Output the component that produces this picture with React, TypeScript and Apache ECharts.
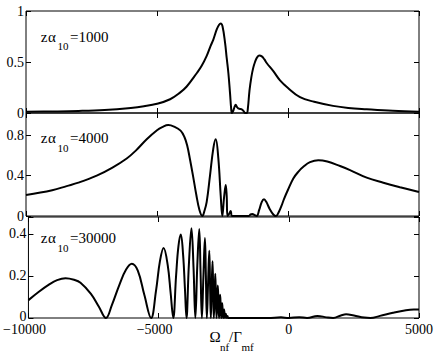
import React, { useEffect, useRef } from 'react';
import * as echarts from 'echarts';

// ---------- data ----------
const X_MIN = -10000;
const X_MAX = 5000;
const X_STEP = 5000;

const PANEL_VALUES = ['1000', '4000', '30000'];
const Y_MAX = [1, 1.02, 0.48];
const Y_STEP = [0.5, 0.4, 0.2];
const Y_TICKS_1 = [0, 0.5, 1];
const Y_TICKS_2 = [0, 0.4, 0.8];
const Y_TICKS_3 = [0, 0.2, 0.4];

// zα10 = 1000
const P1_X = [-10000, -9000, -8000, -7000, -6000, -5500, -5000, -4500, -4122, -3866, -3484, -3300, -3103, -2950, -2850, -2720, -2630, -2568, -2500, -2403, -2340, -2275, -2213, -2165, -2140, -2090, -2040, -1995, -1950, -1900, -1830, -1767, -1700, -1630, -1570, -1530, -1470, -1400, -1330, -1259, -1180, -1094, -1000, -900, -813, -560, -305, 0, 459, 1000, 1719, 2300, 3004, 4000, 5000];
const P1_Y = [0.012, 0.015, 0.02, 0.03, 0.05, 0.066, 0.09, 0.135, 0.2, 0.26, 0.39, 0.46, 0.56, 0.66, 0.72, 0.82, 0.865, 0.878, 0.85, 0.69, 0.54, 0.39, 0.195, 0.03, 0.0, 0.02, 0.06, 0.08, 0.06, 0.045, 0.04, 0.036, 0.02, 0.0, 0.0, 0.05, 0.22, 0.35, 0.44, 0.5, 0.545, 0.564, 0.555, 0.525, 0.49, 0.41, 0.32, 0.245, 0.155, 0.11, 0.07, 0.05, 0.037, 0.022, 0.013];

// zα10 = 4000
const P2_X = [-10000, -9000, -8447, -8000, -7300, -6700, -6156, -5800, -5393, -5000, -4800, -4568, -4350, -4100, -3950, -3850, -3740, -3620, -3500, -3380, -3270, -3190, -3103, -2977, -2850, -2759, -2659, -2568, -2507, -2442, -2377, -2340, -2309, -2250, -2187, -2125, -1500, -1430, -1362, -1290, -1194, -1100, -1000, -915, -830, -700, -560, -457, -350, -250, -150, 0, 203, 400, 585, 840, 1157, 1500, 1986, 2368, 3004, 3640, 4276, 5000];
const P2_Y = [0.207, 0.255, 0.296, 0.33, 0.4, 0.48, 0.57, 0.65, 0.76, 0.85, 0.88, 0.9, 0.885, 0.845, 0.78, 0.7, 0.56, 0.39, 0.21, 0.06, 0.0, 0.05, 0.14, 0.4, 0.67, 0.76, 0.57, 0.2, 0.0, 0.18, 0.306, 0.2, 0.0, 0.02, 0.05, 0.0, 0.0, 0.015, 0.02, 0.012, 0.0, 0.06, 0.14, 0.165, 0.14, 0.07, 0.015, 0.0, 0.04, 0.1, 0.17, 0.26, 0.372, 0.44, 0.487, 0.533, 0.553, 0.54, 0.495, 0.455, 0.38, 0.33, 0.285, 0.237];

// zα10 = 30000
const P3_X = [-10000, -9600, -9200, -8900, -8576, -8250, -8000, -7600, -7300, -7023, -6800, -6500, -6250, -6030, -5800, -5550, -5290, -5100, -4950, -4810, -4650, -4540, -4438, -4330, -4240, -4149, -4060, -3990, -3931, -3840, -3740, -3660, -3590, -3515, -3440, -3390, -3339, -3280, -3222, -3185, -3148, -3100, -3055, -3025, -2995, -2965, -2930, -2905, -2880, -2850, -2825, -2800, -2775, -2752, -2728, -2703, -2680, -2660, -2638, -2616, -2595, -2578, -2560, -2540, -2520, -2485, -2450, -2418, -2385, -2355, -2325, -1500, -800, -300, 0, 400, 700, 1100, 1450, 1700, 2000, 2200, 2500, 2900, 3131, 3500, 4000, 4500, 4800, 5000];
const P3_Y = [0.085, 0.125, 0.16, 0.18, 0.189, 0.182, 0.168, 0.115, 0.055, 0.0, 0.06, 0.16, 0.23, 0.258, 0.225, 0.11, 0.0, 0.13, 0.27, 0.333, 0.25, 0.12, 0.0, 0.2, 0.34, 0.397, 0.3, 0.14, 0.0, 0.25, 0.427, 0.24, 0.0, 0.25, 0.423, 0.22, 0.0, 0.2, 0.38, 0.2, 0.0, 0.17, 0.32, 0.16, 0.0, 0.13, 0.27, 0.13, 0.0, 0.1, 0.21, 0.1, 0.0, 0.08, 0.155, 0.08, 0.0, 0.055, 0.11, 0.055, 0.0, 0.035, 0.07, 0.035, 0.0, 0.04, 0.0, 0.02, 0.0, 0.01, 0.0, 0.0, 0.0, 0.003, 0.0, 0.004, 0.0, 0.01, 0.003, 0.0, 0.012, 0.018, 0.012, 0.002, 0.0, 0.01, 0.025, 0.037, 0.04, 0.04];

const SERIES_X = [P1_X, P2_X, P3_X];
const SERIES_Y = [P1_Y, P2_Y, P3_Y];
const Y_TICKS = [Y_TICKS_1, Y_TICKS_2, Y_TICKS_3];

// ---------- layout / style ----------
const FONT = 'Liberation Serif';
const GRIDS = [
  { top: 11, height: 102 },
  { top: 113, height: 103 },
  { top: 217, height: 101 },
];
const LABEL_Y = [36.7, 138.3, 238.3];
const SUB_Y = [46.3, 147.9, 247.9];

function fmtX(v: number) {
  return v < 0 ? '{neg|\u2212' + Math.abs(v) + '}' : String(v);
}

export default function App() {
  const ref = useRef<HTMLDivElement>(null);

  useEffect(() => {
    if (!ref.current) return;
    const chart = echarts.init(ref.current, undefined, { renderer: 'svg' });

    const grid = GRIDS.map((g) => ({
      left: 26,
      width: 393,
      top: g.top,
      height: g.height,
      show: true,
      borderColor: '#000',
      borderWidth: 1,
      backgroundColor: 'transparent',
    }));

    const tick = { show: true, inside: true, length: 5, lineStyle: { color: '#000', width: 1 } };

    const xAxis: any[] = [];
    const yAxis: any[] = [];
    for (let i = 0; i < 3; i++) {
      ['bottom', 'top'].forEach((pos) => {
        xAxis.push({
          type: 'value',
          gridIndex: i,
          position: pos,
          min: X_MIN,
          max: X_MAX,
          interval: X_STEP,
          axisLine: { show: false, onZero: false },
          splitLine: { show: false },
          axisTick: tick,
          axisLabel: {
            show: i === 2 && pos === 'bottom',
            formatter: fmtX,
            fontFamily: FONT,
            fontSize: 14,
            lineHeight: 10,
            color: '#000',
            margin: 6,
            rich: {
              neg: {
                fontFamily: FONT,
                fontSize: 14,
                lineHeight: 10,
                color: '#000',
                padding: [0, 8, 0, 0],
              },
            },
          },
        });
      });
      const ticks = Y_TICKS[i];
      const isBottom = i === 2;
      ['left', 'right'].forEach((pos) => {
        yAxis.push({
          type: 'value',
          gridIndex: i,
          position: pos,
          min: 0,
          max: Y_MAX[i],
          interval: Y_STEP[i],
          axisLine: { show: false, onZero: false },
          splitLine: { show: false },
          axisTick: tick,
          axisLabel: {
            show: pos === 'left',
            formatter: (v: number) => {
              const t = ticks.find((tt) => Math.abs(tt - v) < 1e-6);
              if (t === undefined) return '';
              return isBottom && t === 0 ? '{low|0}' : String(t);
            },
            fontFamily: FONT,
            fontSize: 14,
            lineHeight: 10,
            color: '#000',
            margin: 2,
            rich: {
              low: {
                fontFamily: FONT,
                fontSize: 14,
                lineHeight: 10,
                color: '#000',
                padding: [0, 0, 4, 0],
              },
            },
          },
        });
      });
    }

    const series = SERIES_X.map((xs, i) => ({
      type: 'line',
      xAxisIndex: 2 * i,
      yAxisIndex: 2 * i,
      data: xs.map((x, k) => [x, SERIES_Y[i][k]]),
      showSymbol: false,
      smooth: 0.4,
      clip: true,
      lineStyle: { color: '#000', width: 2 },
    }));

    const txt = (text: string, x: number, y: number, size: number) => ({
      type: 'text',
      x,
      y,
      style: {
        text,
        fontSize: size,
        fontFamily: FONT,
        fill: '#000',
        align: 'left',
        verticalAlign: 'middle',
      },
    });

    const elements: any[] = [];
    PANEL_VALUES.forEach((val, i) => {
      elements.push(txt('z', 40.7, LABEL_Y[i], 15));
      elements.push(txt('\u03b1', 48, LABEL_Y[i], 15));
      elements.push(txt('10', 57.5, SUB_Y[i], 11));
      elements.push(txt('=' + val, 70, LABEL_Y[i], 15));
    });
    elements.push(txt('\u03a9', 209.5, 337.3, 15));
    elements.push(txt('nf', 220, 347, 11));
    elements.push(txt('/\u0393', 229, 337.3, 15));
    elements.push(txt('mf', 241.5, 347, 11));

    chart.setOption({
      animation: false,
      backgroundColor: '#fff',
      grid,
      xAxis,
      yAxis,
      series,
      graphic: { elements },
    });

    return () => chart.dispose();
  }, []);

  return (
    <div
      ref={ref}
      style={{ position: 'fixed', left: 0, top: 0, width: 436, height: 354 }}
    />
  );
}
